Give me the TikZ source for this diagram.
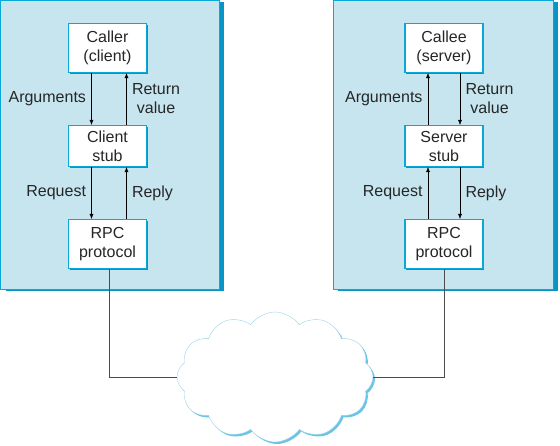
\documentclass[tikz,border=0pt]{standalone}
\usepackage{fontspec}
\setmainfont{Liberation Sans}
\usetikzlibrary{arrows.meta,shapes.symbols,shadows}
\definecolor{panelblue}{HTML}{C6E5EF}
\definecolor{edgecyan}{HTML}{0AA8D8}
\definecolor{deepcyan}{HTML}{0895C6}
\definecolor{cloudline}{HTML}{9AD3E8}
\definecolor{cloudshade}{HTML}{6CC4E4}

\begin{document}
\begin{tikzpicture}[x=1pt, y=-1pt,
	every node/.style={font=\fontsize{16}{19}\selectfont, text=black!85},
	>={Latex[length=5pt,width=4pt]},
	panel/.style={fill=panelblue, draw=edgecyan, line width=0.8pt,
		drop shadow={shadow xshift=5pt, shadow yshift=-1.5pt, fill=deepcyan, opacity=1}},
	layer/.style={draw=edgecyan, fill=white, line width=1.2pt, align=center,
		minimum width=78pt, minimum height=49pt, inner sep=0pt,
		drop shadow={shadow xshift=1.2pt, shadow yshift=-1.2pt, fill=deepcyan, opacity=1}},
	stubbox/.style={layer, minimum height=41pt},
	wire/.style={black!70, line width=0.6pt}]
	\useasboundingbox (0,0) rectangle (560,445);
	% the two machines
	\draw[panel] (0.5,0.5) rectangle (219,289);
	\draw[panel] (333,0.5) rectangle (553,289);
	% client side
	\node[layer] (caller) at (107.5,48) {Caller\\(client)};
	\node[stubbox] (cstub) at (107.5,146) {Client\\stub};
	\node[layer] (rpcL) at (107.5,244) {RPC\\protocol};
	\draw[->] ([xshift=-16pt]caller.south) -- node[left=2pt] {Arguments} ([xshift=-16pt]cstub.north);
	\draw[->] ([xshift=19pt]cstub.north) -- node[right=2pt, align=center] {Return\\value} ([xshift=19pt]caller.south);
	\draw[->] ([xshift=-16pt]cstub.south) -- node[left=2pt] {Request} ([xshift=-16pt]rpcL.north);
	\draw[->] ([xshift=19pt]rpcL.north) -- node[right=2pt] {Reply} ([xshift=19pt]cstub.south);
	% server side
	\node[layer] (callee) at (444,48) {Callee\\(server)};
	\node[stubbox] (sstub) at (444,146) {Server\\stub};
	\node[layer] (rpcR) at (444,244) {RPC\\protocol};
	\draw[->] ([xshift=-16pt]sstub.north) -- node[left=2pt] {Arguments} ([xshift=-16pt]callee.south);
	\draw[->] ([xshift=16pt]callee.south) -- node[right=2pt, align=center] {Return\\value} ([xshift=16pt]sstub.north);
	\draw[->] ([xshift=-16pt]rpcR.north) -- node[left=2pt] {Request} ([xshift=-16pt]sstub.south);
	\draw[->] ([xshift=16pt]sstub.south) -- node[right=2pt] {Reply} ([xshift=16pt]rpcR.north);
	% network
	\node[cloud, cloud puffs=12, cloud puff arc=110, aspect=1.5, draw=cloudline, fill=white,
		minimum width=196pt, minimum height=130pt, inner sep=0pt,
		drop shadow={shadow xshift=2pt, shadow yshift=-2pt, fill=cloudshade, opacity=1}] (net) at (275,377) {};
	\draw[wire] ([xshift=2pt]rpcL.south) |- (net.west);
	\draw[wire] (rpcR.south) |- (net.east);
\end{tikzpicture}
\end{document}
